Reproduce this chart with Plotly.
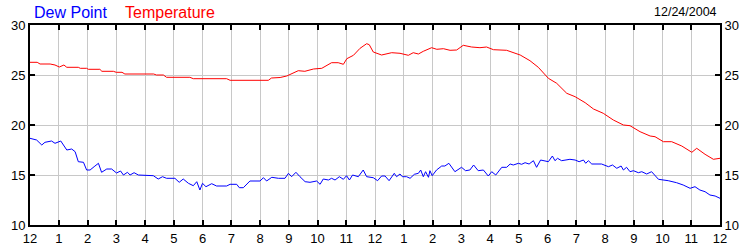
import plotly.graph_objects as go

# ---- data (hours since midnight, degrees) ----
temp_hours = [0, 0.25, 0.35, 0.7, 0.87, 1.02, 1.18, 1.28, 1.68, 1.75, 1.97, 2.03, 2.43, 2.5, 2.9, 3.0,
              3.2, 3.3, 4.3, 4.4, 4.64, 4.75, 5.56, 5.68, 6.84, 6.96, 8.29, 8.4, 8.7, 8.93, 9.33, 9.56,
              9.86, 10.15, 10.49, 10.72, 10.9, 11.02, 11.25, 11.48, 11.71, 11.8, 11.94, 12.23, 12.58,
              12.87, 13.16, 13.33, 13.51, 13.68, 13.97, 14.15, 14.38, 14.61, 14.84, 15.07, 15.36,
              15.65, 15.88, 16.12, 16.58, 16.81, 17.05, 17.39, 17.68, 18.03, 18.32, 18.67, 18.96,
              19.31, 19.6, 19.94, 20.29, 20.64, 20.87, 21.22, 21.57, 21.74, 22.03, 22.32, 22.67,
              23.02, 23.19, 23.48, 23.77, 24.0]
temp_values = [26.27, 26.27, 26.1, 26.1, 26.0, 25.8, 26.0, 25.77, 25.77, 25.67, 25.67, 25.57, 25.57,
               25.37, 25.37, 25.27, 25.27, 25.1, 25.1, 25.0, 25.0, 24.77, 24.77, 24.63, 24.63, 24.47,
               24.47, 24.7, 24.75, 24.9, 25.43, 25.37, 25.6, 25.67, 26.23, 26.23, 26.07, 26.63, 26.97,
               27.67, 28.13, 28.03, 27.3, 27.0, 27.23, 27.17, 26.97, 27.23, 27.1, 27.37, 27.73, 27.57,
               27.63, 27.47, 27.5, 27.97, 27.8, 27.73, 27.8, 27.53, 27.47, 27.27, 27.0, 26.43, 25.77,
               24.67, 24.17, 23.17, 22.83, 22.23, 21.6, 21.17, 20.5, 20.0, 19.93, 19.33, 18.9, 18.83,
               18.33, 18.33, 17.9, 17.27, 17.67, 17.07, 16.57, 16.67]

dew_hours = [0, 0.23, 0.41, 0.52, 0.75, 0.87, 1.07, 1.28, 1.45, 1.57, 1.68, 1.86, 1.97, 2.09, 2.23,
             2.32, 2.38, 2.49, 2.67, 2.84, 3.01, 3.15, 3.25, 3.39, 3.48, 3.62, 3.77, 4.29, 4.46, 4.61,
             4.75, 5.04, 5.19, 5.33, 5.51, 5.68, 5.8, 5.91, 6.0, 6.12, 6.32, 6.49, 6.84, 6.96, 7.19,
             7.28, 7.42, 7.65, 8.0, 8.12, 8.23, 8.41, 8.64, 8.87, 8.99, 9.1, 9.25, 9.39, 9.57, 9.74,
             9.97, 10.09, 10.2, 10.38, 10.49, 10.61, 10.76, 10.9, 11.01, 11.11, 11.22, 11.42, 11.59,
             11.71, 11.94, 12.09, 12.23, 12.35, 12.49, 12.67, 12.75, 12.87, 12.95, 13.1, 13.22, 13.37,
             13.51, 13.59, 13.68, 13.76, 13.86, 13.91, 13.99, 14.14, 14.32, 14.43, 14.57, 14.78,
             15.01, 15.15, 15.3, 15.43, 15.59, 15.77, 15.94, 16.06, 16.2, 16.41, 16.58, 16.7, 16.81,
             16.99, 17.1, 17.22, 17.36, 17.51, 17.62, 17.76, 17.91, 18.03, 18.17, 18.26, 18.35, 18.49,
             18.78, 18.96, 19.1, 19.25, 19.33, 19.42, 19.54, 19.71, 19.88, 20.12, 20.26, 20.41, 20.56,
             20.64, 20.75, 20.87, 20.99, 21.16, 21.28, 21.45, 21.62, 21.86, 22.2, 22.49, 22.72, 22.96,
             23.13, 23.3, 23.48, 23.65, 23.83, 24.0]
dew_values = [18.67, 18.5, 18.0, 18.27, 18.4, 18.17, 18.4, 17.5, 17.6, 17.33, 16.33, 16.27, 15.5, 15.5,
              15.83, 16.0, 16.17, 15.27, 15.6, 15.6, 15.2, 15.4, 15.0, 15.27, 15.0, 15.23, 15.0, 14.93,
              14.6, 14.83, 14.67, 14.67, 14.27, 14.6, 14.17, 13.93, 14.33, 13.5, 14.17, 13.83, 14.13,
              13.9, 13.9, 14.07, 14.07, 13.73, 13.73, 14.4, 14.4, 14.73, 14.4, 14.77, 14.67, 14.67,
              15.17, 14.83, 15.27, 14.83, 14.33, 14.27, 14.4, 14.07, 14.6, 14.5, 14.67, 14.5, 14.83,
              14.57, 14.93, 14.5, 15.0, 14.83, 15.5, 14.83, 14.73, 14.43, 14.9, 14.9, 14.43, 15.17,
              14.83, 15.1, 14.83, 14.83, 14.67, 15.07, 15.17, 15.5, 14.83, 15.33, 14.77, 15.43, 14.93,
              15.5, 15.9, 15.9, 16.17, 15.33, 15.77, 15.43, 15.5, 16.0, 15.43, 15.5, 14.9, 15.33, 15.0,
              15.77, 15.77, 16.1, 16.0, 16.17, 16.07, 16.23, 16.1, 16.43, 15.77, 16.5, 16.43, 16.33,
              16.9, 16.43, 16.67, 16.43, 16.57, 16.5, 16.33, 16.5, 16.17, 16.43, 16.1, 16.1, 16.1,
              15.83, 16.0, 15.67, 15.9, 15.5, 15.77, 15.33, 15.43, 15.23, 15.33, 15.1, 15.33, 14.57,
              14.43, 14.23, 14.0, 13.67, 13.83, 13.5, 13.33, 13.0, 12.9, 12.67]

hour_ticks = list(range(0, 25))
hour_labels = ['12', '1', '2', '3', '4', '5', '6', '7', '8', '9', '10', '11',
               '12', '1', '2', '3', '4', '5', '6', '7', '8', '9', '10', '11', '12']
y_ticks = [10, 15, 20, 25, 30]
date_label = '12/24/2004'

FONT = 'Liberation Sans, Arial, sans-serif'
GRID = '#c8c8c8'

fig = go.Figure()
fig.add_trace(go.Scatter(x=dew_hours, y=dew_values, mode='lines', name='Dew Point',
                         line=dict(color='#0000ff', width=1), yaxis='y'))
fig.add_trace(go.Scatter(x=temp_hours, y=temp_values, mode='lines', name='Temperature',
                         line=dict(color='#ff0000', width=1), yaxis='y2'))

axis_common = dict(showline=True, linecolor='black', linewidth=2, ticks='inside', ticklen=5,
                   tickwidth=2, tickcolor='black', zeroline=False, automargin=False,
                   tickfont=dict(family=FONT, size=13, color='black'))

fig.update_layout(
    width=750, height=250,
    margin=dict(l=30, r=30, t=25, b=25, pad=0, autoexpand=False),
    paper_bgcolor='white', plot_bgcolor='white',
    showlegend=False,
    xaxis=dict(range=[0, 24], tickvals=hour_ticks, ticktext=hour_labels, mirror='ticks',
               showgrid=True, gridcolor=GRID, gridwidth=1, **axis_common),
    yaxis=dict(range=[10, 30], tickvals=y_ticks, mirror='ticks', showgrid=True,
               gridcolor=GRID, gridwidth=1, **axis_common),
    yaxis2=dict(range=[10, 30], tickvals=y_ticks, overlaying='y', side='right',
                showgrid=False, **axis_common),
)


def px_x(p):
    return (p - 30) / 690.0


def px_y(p):
    return (225 - p) / 200.0


fig.add_annotation(text='Dew Point', x=px_x(32), y=px_y(23), xref='paper', yref='paper',
                   xanchor='left', yanchor='bottom', showarrow=False,
                   font=dict(family=FONT, size=16, color='#0000ff'))
fig.add_annotation(text='Temperature', x=px_x(123), y=px_y(23), xref='paper', yref='paper',
                   xanchor='left', yanchor='bottom', showarrow=False,
                   font=dict(family=FONT, size=16, color='#ff0000'))
fig.add_annotation(text=date_label, x=px_x(719), y=px_y(21.5), xref='paper', yref='paper',
                   xanchor='right', yanchor='bottom', showarrow=False,
                   font=dict(family=FONT, size=12.5, color='black'))

fig.write_html('out.html')
